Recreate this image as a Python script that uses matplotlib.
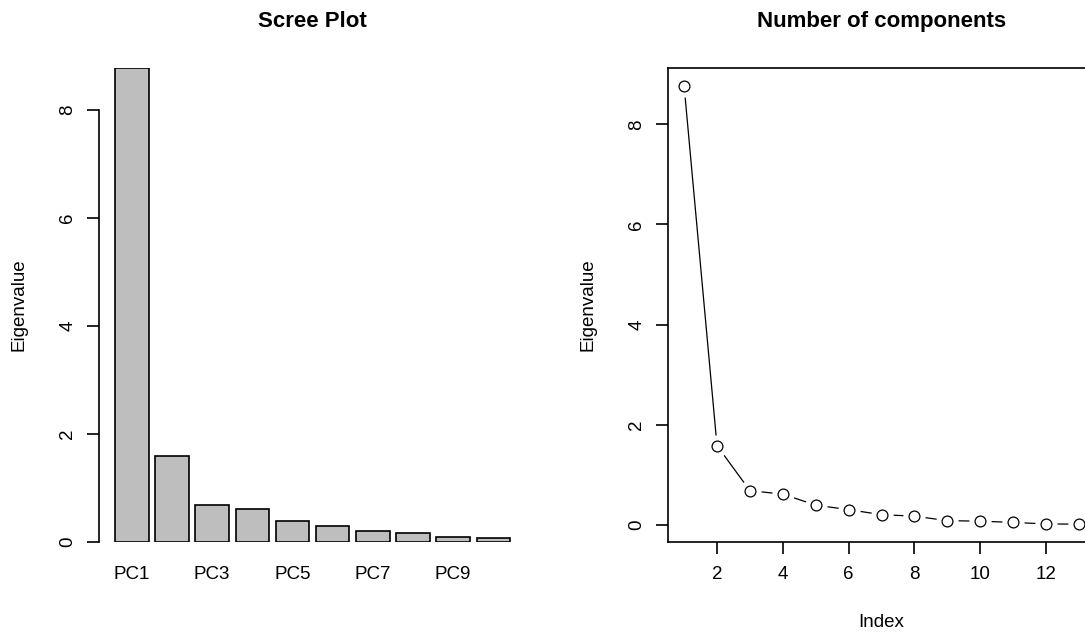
import matplotlib
matplotlib.use("Agg")
import matplotlib.pyplot as plt

plt.rcParams['font.family'] = ['Liberation Sans', 'DejaVu Sans']

# ---- data ----
components = ["PC1", "PC2", "PC3", "PC4", "PC5", "PC6", "PC7", "PC8", "PC9", "PC10"]
eigenvalues = [8.77, 1.58, 0.68, 0.61, 0.39, 0.30, 0.20, 0.17, 0.08, 0.07, 0.045, 0.015, 0.01]
y_ticks = [0, 2, 4, 6, 8]
index_ticks = [2, 4, 6, 8, 10, 12]

W, H = 1085, 633
fig = plt.figure(figsize=(W / 100, H / 100), dpi=100)

def frac_rect(x0, y_top, w, h):
    return [x0 / W, (H - y_top - h) / H, w / W, h / H]

region_w = 426.5
region_h = 473.4
fs = 13.5
tick_len = 8.3
lw_axis = 1.2

# ---------------- Left: bar plot ----------------
ax1 = fig.add_axes(frac_rect(99.3, 68.3, region_w, region_h))
nb = len(components)
bar_vals = eigenvalues[:nb]
width = 1.0
space = 0.2
centers = [space + width / 2 + i * (space + width) for i in range(nb)]
ax1.bar(centers, bar_vals, width=width, color="#BEBEBE", edgecolor="black",
        linewidth=1.2)
xl0, xl1 = space, nb * (space + width)
ext = 0.04 * (xl1 - xl0)
ax1.set_xlim(xl0 - ext, xl1 + ext)
ax1.set_ylim(0, max(bar_vals))
for s in ["top", "right", "bottom"]:
    ax1.spines[s].set_visible(False)
ax1.spines["left"].set_bounds(0, 8)
ax1.spines["left"].set_linewidth(lw_axis)
ax1.set_yticks(y_ticks)
ax1.set_yticklabels([str(t) for t in y_ticks])
ax1.set_xticks(centers[::2])
ax1.set_xticklabels(components[::2])
ax1.tick_params(axis="x", length=0, pad=tick_len + 9.5, labelsize=fs)
ax1.tick_params(axis="y", length=tick_len, width=lw_axis, pad=14.5,
                labelsize=fs, labelrotation=90)
for lab in ax1.get_yticklabels():
    lab.set_ha("center")
    lab.set_va("center")
ax1.set_ylabel("Eigenvalue", fontsize=fs)
ax1.yaxis.set_label_coords((19 - 99.3) / region_w, 0.5)
ax1.yaxis.label.set_va("center")
ax1.text(0.5, (541.7 - 22) / region_h, "Scree Plot", transform=ax1.transAxes,
         ha="center", va="center", fontsize=16, fontweight="bold")

# ---------------- Right: line plot ----------------
ax2 = fig.add_axes(frac_rect(668.3, 68.3, region_w, region_h))
idx = list(range(1, len(eigenvalues) + 1))
ax2.plot(idx, eigenvalues, color="black", linewidth=0.9, zorder=2)
ax2.plot(idx, eigenvalues, linestyle="none", marker="o", markersize=16,
         markerfacecolor="white", markeredgecolor="none", zorder=3)
ax2.plot(idx, eigenvalues, linestyle="none", marker="o", markersize=7.8,
         markerfacecolor="white", markeredgecolor="black",
         markeredgewidth=0.9, zorder=4)
xr = idx[-1] - idx[0]
ax2.set_xlim(idx[0] - 0.04 * xr, idx[-1] + 0.04 * xr)
yr = max(eigenvalues) - min(eigenvalues)
ax2.set_ylim(min(eigenvalues) - 0.04 * yr, max(eigenvalues) + 0.04 * yr)
for s in ax2.spines.values():
    s.set_linewidth(lw_axis)
ax2.set_xticks(index_ticks)
ax2.set_xticklabels([str(t) for t in index_ticks])
ax2.set_yticks(y_ticks)
ax2.set_yticklabels([str(t) for t in y_ticks])
ax2.tick_params(axis="x", length=tick_len, width=lw_axis, pad=9.5, labelsize=fs)
ax2.tick_params(axis="y", length=tick_len, width=lw_axis, pad=14.5,
                labelsize=fs, labelrotation=90)
for lab in ax2.get_yticklabels():
    lab.set_ha("center")
    lab.set_va("center")
ax2.set_ylabel("Eigenvalue", fontsize=fs)
ax2.yaxis.set_label_coords((588.5 - 668.3) / region_w, 0.5)
ax2.yaxis.label.set_va("center")
ax2.set_xlabel("Index", fontsize=fs)
ax2.xaxis.set_label_coords(0.5, (541.7 - 622.5) / region_h)
ax2.xaxis.label.set_va("center")
ax2.text(0.5, (541.7 - 22) / region_h, "Number of components",
         transform=ax2.transAxes, ha="center", va="center", fontsize=16,
         fontweight="bold")

fig.savefig("out.png", dpi=100)
